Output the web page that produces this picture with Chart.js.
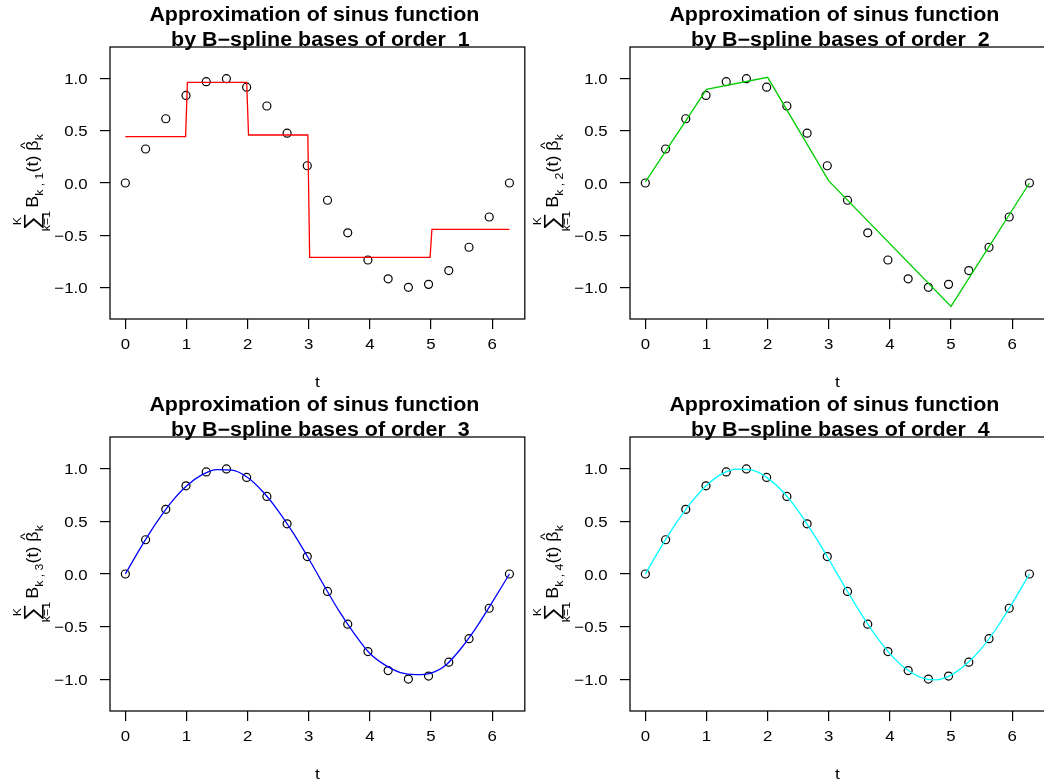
<!DOCTYPE html>
<html>
<head>
<meta charset="utf-8">
<script src="https://cdn.jsdelivr.net/npm/chart.js@4.4.1/dist/chart.umd.min.js"></script>
<style>
  html, body { margin: 0; padding: 0; background: #fff; overflow: hidden; }
  #wrap { position: relative; width: 1044px; height: 784px; overflow: hidden; background: #fff; }
  #wrap canvas { position: absolute; }
</style>
</head>
<body>
<div id="wrap">
  <canvas id="p1" width="530" height="392" style="left:0px;top:0px"></canvas>
  <canvas id="p2" width="530" height="392" style="left:520px;top:0px"></canvas>
  <canvas id="p3" width="530" height="394" style="left:0px;top:390px"></canvas>
  <canvas id="p4" width="530" height="394" style="left:520px;top:390px"></canvas>
</div>
<script>
// Observed samples of sin(t) on [0, 2*pi]
const tPoints = [0, 0.331, 0.661, 0.992, 1.323, 1.653, 1.984, 2.315, 2.646, 2.976,
                 3.307, 3.638, 3.968, 4.299, 4.630, 4.960, 5.291, 5.622, 5.952, 6.283];
const yPoints = [0, 0.325, 0.614, 0.837, 0.969, 0.997, 0.916, 0.736, 0.476, 0.165,
                 -0.165, -0.476, -0.736, -0.916, -0.997, -0.969, -0.837, -0.614, -0.325, 0];

// Order 1: piecewise constant fit (knots 0, 1, 2, 3, 5, 2*pi)
const fit1T = [0, 0.985, 1.015, 1.985, 2.015, 2.985, 3.015, 4.985, 5.015, 6.283];
const fit1Y = [0.444, 0.444, 0.961, 0.961, 0.459, 0.459, -0.710, -0.710, -0.444, -0.444];

// Order 2: piecewise linear fit
const fit2T = [0, 1, 2, 3, 5, 6.283];
const fit2Y = [0.01, 0.895, 1.01, 0.02, -1.18, 0.0];

// Orders 3 and 4: smooth fits, read on a regular grid
const fitGridT = [0, 0.25, 0.5, 0.75, 1.0, 1.25, 1.5, 1.75, 2.0, 2.25, 2.5, 2.75, 3.0,
                  3.25, 3.5, 3.75, 4.0, 4.25, 4.5, 4.75, 5.0, 5.25, 5.5, 5.75, 6.0, 6.283];
const fit3Y = [0.00, 0.25, 0.48, 0.68, 0.835, 0.94, 0.99, 0.985, 0.915, 0.78, 0.60, 0.385, 0.145,
               -0.11, -0.355, -0.57, -0.755, -0.865, -0.935, -0.955, -0.94, -0.86, -0.70, -0.50, -0.27, 0.00];
const fit4Y = [0.00, 0.25, 0.48, 0.68, 0.84, 0.95, 0.995, 0.985, 0.91, 0.78, 0.60, 0.38, 0.14,
               -0.11, -0.35, -0.57, -0.755, -0.895, -0.98, -1.005, -0.96, -0.855, -0.705, -0.51, -0.28, 0.00];

const orders = [1, 2, 3, 4];
const xTickValues = [0, 1, 2, 3, 4, 5, 6];
const xTickLabels = ['0', '1', '2', '3', '4', '5', '6'];
const yTickValues = [-1, -0.5, 0, 0.5, 1];
const yTickLabels = ['\u22121.0', '\u22120.5', '0.0', '0.5', '1.0'];
const titleLine1 = 'Approximation of sinus function ';
const titleLine2 = ' by B\u2212spline bases of order  ';
const xLabel = 't';

const panels = [
  { id: 'p1', order: orders[0], t: fit1T, y: fit1Y, color: '#FF0000', smooth: false },
  { id: 'p2', order: orders[1], t: fit2T, y: fit2Y, color: '#00CD00', smooth: false },
  { id: 'p3', order: orders[2], t: fitGridT, y: fit3Y, color: '#0000FF', smooth: true },
  { id: 'p4', order: orders[3], t: fitGridT, y: fit4Y, color: '#00FFFF', smooth: true }
];

const FONT = '"Liberation Sans", Arial, Helvetica, sans-serif';
const WIDEN = 1.12;   // horizontal widening of the lettering
Chart.defaults.font.family = FONT;
Chart.defaults.color = '#000';

function wideText(ctx, s, x, y, align, font, sx) {
  ctx.save();
  ctx.font = font;
  ctx.translate(x, y);
  ctx.scale(sx, 1);
  ctx.textAlign = align;
  ctx.textBaseline = 'alphabetic';
  ctx.fillText(s, 0, 0);
  ctx.restore();
}

// Frame, tick labels, two-line title, axis labels
const decorations = {
  id: 'decorations',
  afterDraw(chart, args, opts) {
    const ctx = chart.ctx, a = chart.chartArea;
    const xs = chart.scales.x, ys = chart.scales.y;
    ctx.save();
    ctx.fillStyle = '#000';

    // box around the plotting region
    ctx.strokeStyle = '#000';
    ctx.lineWidth = 1.25;
    ctx.strokeRect(a.left, a.top, a.right - a.left, a.bottom - a.top);

    // tick labels
    const tickFont = '15px ' + FONT;
    xTickValues.forEach((v, i) => {
      wideText(ctx, xTickLabels[i], xs.getPixelForValue(v), a.bottom + 29.5, 'center', tickFont, WIDEN);
    });
    yTickValues.forEach((v, i) => {
      wideText(ctx, yTickLabels[i], a.left - 22.5, ys.getPixelForValue(v) + 5.5, 'right', tickFont, WIDEN);
    });

    // x-axis label
    const cx = (a.left + a.right) / 2;
    wideText(ctx, xLabel, cx, a.bottom + 68, 'center', '15.5px ' + FONT, WIDEN);

    // title
    const titleFont = 'bold 19.5px ' + FONT;
    wideText(ctx, titleLine1, cx, 21, 'center', titleFont, 1.1);
    wideText(ctx, titleLine2 + opts.order, cx, 46, 'center', titleFont, 1.1);

    // y-axis label: sum_{k=1}^{K} B_{k,order}(t) beta-hat_k, read bottom to top
    const fBig = '16px ' + FONT, fSm = '11px ' + FONT, fSum = '22px ' + FONT, fHat = '13px ' + FONT;
    const w = (s, f) => { ctx.font = f; return ctx.measureText(s).width; };
    const sub = 'k , ' + opts.order;
    const wSum = w('\u2211', fSum), wB = w('B', fBig), wSub = w(sub, fSm),
          wT = w('(t)', fBig), wSp = w(' ', fBig), wBeta = w('\u03B2', fBig), wK = w('k', fSm);
    const gap = 4;
    const total = wSum + gap + wB + wSub + wT + wSp + wBeta + wK;
    ctx.translate(38, (a.top + a.bottom) / 2 - 1);
    ctx.rotate(-Math.PI / 2);
    ctx.scale(WIDEN, 1);
    ctx.textBaseline = 'alphabetic';
    ctx.textAlign = 'left';
    let u = -total / 2;
    ctx.font = fSum; ctx.fillText('\u2211', u, 0.5);
    ctx.font = fSm; ctx.textAlign = 'center';
    ctx.fillText('K', u + wSum / 2, -17.5);
    ctx.fillText('k=1', u + wSum / 2, 12);
    ctx.textAlign = 'left';
    u += wSum + gap;
    ctx.font = fBig; ctx.fillText('B', u, 0); u += wB;
    ctx.font = fSm; ctx.fillText(sub, u, 5); u += wSub;
    ctx.font = fBig; ctx.fillText('(t)', u, 0); u += wT + wSp;
    ctx.font = fBig; ctx.fillText('\u03B2', u, 0);
    ctx.font = fHat; ctx.textAlign = 'center';
    ctx.fillText('^', u + wBeta / 2, -9.5);
    ctx.textAlign = 'left';
    u += wBeta;
    ctx.font = fSm; ctx.fillText('k', u, 5);
    ctx.restore();
  }
};

function makeChart(p) {
  const ctx = document.getElementById(p.id).getContext('2d');
  const fitData = p.t.map((t, i) => ({ x: t, y: p.y[i] }));
  const ptData = tPoints.map((t, i) => ({ x: t, y: yPoints[i] }));
  return new Chart(ctx, {
    type: 'scatter',
    data: {
      datasets: [
        {
          data: fitData,
          showLine: true,
          borderColor: p.color,
          borderWidth: 1.3,
          pointRadius: 0,
          fill: false,
          tension: p.smooth ? 0.4 : 0,
          cubicInterpolationMode: p.smooth ? 'monotone' : 'default',
          order: 0
        },
        {
          data: ptData,
          showLine: false,
          pointStyle: 'circle',
          pointRadius: 4,
          pointBorderWidth: 1.2,
          pointBorderColor: '#000',
          pointBackgroundColor: 'rgba(0,0,0,0)',
          order: 1
        }
      ]
    },
    options: {
      responsive: false,
      animation: false,
      devicePixelRatio: 1,
      layout: { padding: { top: 47, right: 5, bottom: 0, left: 0 } },
      plugins: {
        legend: { display: false },
        tooltip: { enabled: false },
        title: { display: false },
        decorations: { order: p.order }
      },
      scales: {
        x: {
          type: 'linear',
          min: -0.2513,
          max: 6.5345,
          afterBuildTicks: s => { s.ticks = xTickValues.map(v => ({ value: v })); },
          afterFit: s => { s.height = 73; },
          ticks: { display: false, autoSkip: false, maxRotation: 0 },
          grid: { display: true, drawOnChartArea: false, drawTicks: true, tickLength: 10, color: '#000', lineWidth: 1.2 },
          border: { display: false },
          title: { display: false }
        },
        y: {
          type: 'linear',
          min: -1.3,
          max: 1.3,
          afterBuildTicks: s => { s.ticks = yTickValues.map(v => ({ value: v })); },
          afterFit: s => { s.width = 110; },
          ticks: { display: false, autoSkip: false },
          grid: { display: true, drawOnChartArea: false, drawTicks: true, tickLength: 10, color: '#000', lineWidth: 1.2 },
          border: { display: false }
        }
      }
    },
    plugins: [decorations]
  });
}

panels.forEach(makeChart);
</script>
</body>
</html>
